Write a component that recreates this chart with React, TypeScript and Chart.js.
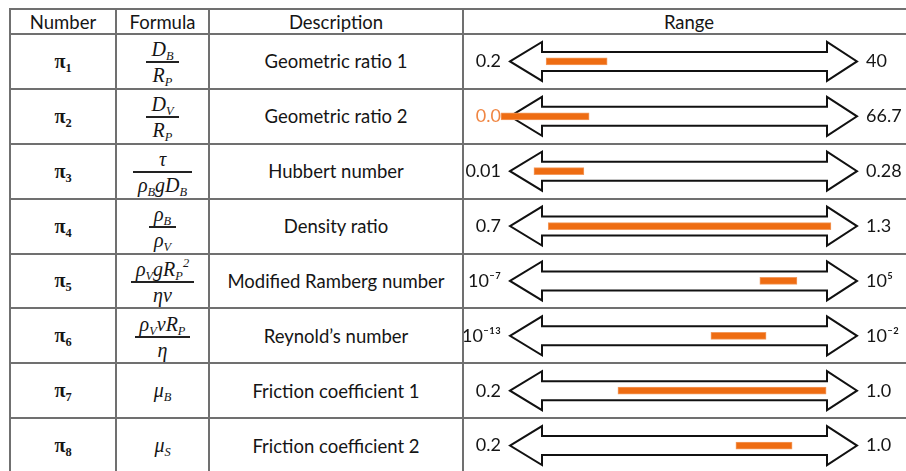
import React, { useEffect, useRef } from "react";
import { Chart, registerables } from "chart.js";

Chart.register(...registerables);

// ---------------- data ----------------
const HEADERS = ["Number", "Formula", "Description", "Range"];
const ROW_INDEX = ["1", "2", "3", "4", "5", "6", "7", "8"];
const DESCRIPTIONS = [
  "Geometric ratio 1",
  "Geometric ratio 2",
  "Hubbert number",
  "Density ratio",
  "Modified Ramberg number",
  "Reynold\u2019s number",
  "Friction coefficient 1",
  "Friction coefficient 2",
];
const RANGE_MIN_LABELS = ["0.2", "0.0", "0.01", "0.7", "10\u207B\u2077", "10\u207B\u00B9\u00B3", "0.2", "0.2"];
const RANGE_MAX_LABELS = ["40", "66.7", "0.28", "1.3", "10\u2075", "10\u207B\u00B2", "1.0", "1.0"];
// bar positions along the arrow (0 = left arrow tip, 100 = right arrow tip)
const ARROW_FROM = 0;
const ARROW_TO = 100;
const BAR_START = [10.4, -2.6, 6.9, 11.0, 72.0, 57.9, 31.1, 65.1];
const BAR_END = [28.0, 22.8, 21.3, 92.5, 82.7, 73.8, 91.1, 81.3];

// ---------------- layout / style ----------------
const FONT = 'Lato, "Open Sans", sans-serif';
const MATH_FONT = '"Liberation Serif", "DejaVu Serif", serif';
const TEXT_COLOR = "#151515";
const LINE_COLOR = "#707070";
const ORANGE = "#EE6C12";
const ORANGE_LIGHT = "#F08643";
const TEXT_SIZE = 18.5;
const RANGE_SIZE = 18;
const TABLE_TOP = 9;
const HEADER_BOTTOM = 34;
const BODY_BOTTOM = 473;
const ROW_H = (BODY_BOTTOM - HEADER_BOTTOM) / 8;
const COL_X = [10, 116, 209, 463, 915];
const W = 906;
const H = 471;

const Sub = ({ children }: { children: React.ReactNode }) => (
  <sub style={{ fontSize: "0.62em", verticalAlign: "-0.3em", lineHeight: 0 }}>{children}</sub>
);
const Sup = ({ children }: { children: React.ReactNode }) => (
  <sup style={{ fontSize: "0.62em", verticalAlign: "0.7em", lineHeight: 0 }}>{children}</sup>
);

const Frac = ({ num, den }: { num: React.ReactNode; den: React.ReactNode }) => (
  <span
    style={{
      display: "inline-flex",
      flexDirection: "column",
      alignItems: "center",
      fontFamily: MATH_FONT,
      fontStyle: "italic",
      fontSize: 20,
      lineHeight: "19px",
      color: TEXT_COLOR,
      marginTop: 3,
    }}
  >
    <span style={{ padding: "0 5px 2px" }}>{num}</span>
    <span style={{ alignSelf: "stretch", borderTop: "2px solid #222" }} />
    <span style={{ padding: "3px 5px 0" }}>{den}</span>
  </span>
);

const Single = ({ children }: { children: React.ReactNode }) => (
  <span style={{ fontFamily: MATH_FONT, fontStyle: "italic", fontSize: 20, color: TEXT_COLOR }}>{children}</span>
);

const FORMULAS: React.ReactNode[] = [
  <Frac num={<>D<Sub>B</Sub></>} den={<>R<Sub>P</Sub></>} />,
  <Frac num={<>D<Sub>V</Sub></>} den={<>R<Sub>P</Sub></>} />,
  <Frac num={<>τ</>} den={<>ρ<Sub>B</Sub>gD<Sub>B</Sub></>} />,
  <Frac num={<>ρ<Sub>B</Sub></>} den={<>ρ<Sub>V</Sub></>} />,
  <Frac num={<>ρ<Sub>V</Sub>gR<Sub>P</Sub><Sup>2</Sup></>} den={<>ηv</>} />,
  <Frac num={<>ρ<Sub>V</Sub>vR<Sub>P</Sub></>} den={<>η</>} />,
  <Single>μ<Sub>B</Sub></Single>,
  <Single>μ<Sub>S</Sub></Single>,
];

const arrowPlugin = {
  id: "rangeArrows",
  beforeDatasetsDraw(chart: any) {
    const { ctx, scales } = chart;
    const x = scales.x;
    const y = scales.y;
    const xl = x.getPixelForValue(ARROW_FROM);
    const xr = x.getPixelForValue(ARROW_TO);
    const headL = 32;
    const headR = 30;
    const shaft = 9.5;
    const head = 19.5;
    ctx.save();
    ctx.lineWidth = 2;
    ctx.strokeStyle = "#111";
    ctx.fillStyle = "#fff";
    ctx.lineJoin = "miter";
    for (let i = 0; i < ROW_INDEX.length; i++) {
      const cy = y.getPixelForValue(i);
      ctx.beginPath();
      ctx.moveTo(xl, cy);
      ctx.lineTo(xl + headL, cy - head);
      ctx.lineTo(xl + headL, cy - shaft);
      ctx.lineTo(xr - headR, cy - shaft);
      ctx.lineTo(xr - headR, cy - head);
      ctx.lineTo(xr, cy);
      ctx.lineTo(xr - headR, cy + head);
      ctx.lineTo(xr - headR, cy + shaft);
      ctx.lineTo(xl + headL, cy + shaft);
      ctx.lineTo(xl + headL, cy + head);
      ctx.closePath();
      ctx.fill();
      ctx.stroke();
    }
    ctx.restore();
  },
};

const fitAxis = (width: number) => (s: any) => {
  s.width = width;
  s.paddingTop = 0;
  s.paddingBottom = 0;
};

function RangeChart() {
  const ref = useRef<HTMLCanvasElement | null>(null);
  useEffect(() => {
    if (!ref.current) return;
    const chart = new Chart(ref.current, {
      type: "bar",
      data: {
        labels: ROW_INDEX,
        datasets: [
          {
            data: BAR_START.map((s, i) => [s, BAR_END[i]]) as any,
            backgroundColor: ORANGE,
            borderColor: "#F39A5E",
            borderWidth: 1,
            borderSkipped: false,
            barThickness: 7,
            clip: false as any,
            yAxisID: "y",
          },
        ],
      },
      options: {
        indexAxis: "y",
        responsive: false,
        animation: false,
        layout: { padding: 0 },
        plugins: { legend: { display: false }, tooltip: { enabled: false } },
        scales: {
          x: { type: "linear", min: ARROW_FROM, max: ARROW_TO, display: false },
          y: {
            type: "category",
            position: "left",
            offset: true,
            grid: { display: false, drawTicks: false },
            border: { display: false },
            afterFit: fitAxis(47),
            ticks: {
              autoSkip: false,
              padding: 9,
              font: { family: FONT, size: RANGE_SIZE },
              color: (c: any) => (BAR_START[c.index] < ARROW_FROM ? ORANGE_LIGHT : TEXT_COLOR),
              callback: (_v: any, i: number) => RANGE_MIN_LABELS[i],
            },
          },
          y2: {
            type: "category",
            position: "right",
            offset: true,
            grid: { display: false, drawTicks: false },
            border: { display: false },
            afterFit: fitAxis(49),
            ticks: {
              autoSkip: false,
              padding: 9,
              font: { family: FONT, size: RANGE_SIZE },
              color: TEXT_COLOR,
              callback: (_v: any, i: number) => RANGE_MAX_LABELS[i],
            },
          },
        },
      } as any,
      plugins: [arrowPlugin],
    });
    return () => chart.destroy();
  }, []);
  return (
    <canvas
      ref={ref}
      width={W - COL_X[3]}
      height={BODY_BOTTOM - HEADER_BOTTOM}
      style={{ position: "absolute", left: COL_X[3], top: HEADER_BOTTOM, display: "block" }}
    />
  );
}

export default function App() {
  const hLines = [TABLE_TOP, HEADER_BOTTOM, ...ROW_INDEX.map((_, i) => HEADER_BOTTOM + (i + 1) * ROW_H)];
  const cell = (x0: number, x1: number, top: number, h: number, content: React.ReactNode, key: string) => (
    <div
      key={key}
      style={{
        position: "absolute",
        left: x0,
        top,
        width: x1 - x0,
        height: h,
        display: "flex",
        alignItems: "center",
        justifyContent: "center",
        fontFamily: FONT,
        fontSize: TEXT_SIZE,
        color: TEXT_COLOR,
        whiteSpace: "nowrap",
      }}
    >
      {content}
    </div>
  );
  return (
    <div style={{ position: "fixed", left: 0, top: 0, width: W, height: H, overflow: "hidden", background: "#fff" }}>
      {HEADERS.map((h, i) => cell(COL_X[i], COL_X[i + 1], TABLE_TOP, HEADER_BOTTOM - TABLE_TOP, h, "h" + i))}
      {ROW_INDEX.map((n, i) => {
        const top = HEADER_BOTTOM + i * ROW_H;
        return (
          <React.Fragment key={"r" + i}>
            {cell(
              COL_X[0],
              COL_X[1],
              top,
              ROW_H,
              <span style={{ fontFamily: MATH_FONT, fontSize: 20, fontWeight: 600 }}>
                π<Sub>{n}</Sub>
              </span>,
              "n" + i
            )}
            {cell(COL_X[1], COL_X[2], top, ROW_H, FORMULAS[i], "f" + i)}
            {cell(COL_X[2], COL_X[3], top, ROW_H, DESCRIPTIONS[i], "d" + i)}
          </React.Fragment>
        );
      })}
      <RangeChart />
      {hLines.map((y, i) => (
        <div
          key={"hl" + i}
          style={{ position: "absolute", left: COL_X[0], top: Math.round(y) - 1, width: W, height: 2, background: LINE_COLOR }}
        />
      ))}
      {COL_X.slice(0, 4).map((x, i) => (
        <div
          key={"vl" + i}
          style={{ position: "absolute", left: x - 1, top: TABLE_TOP - 1, width: 2, height: H, background: LINE_COLOR }}
        />
      ))}
    </div>
  );
}
